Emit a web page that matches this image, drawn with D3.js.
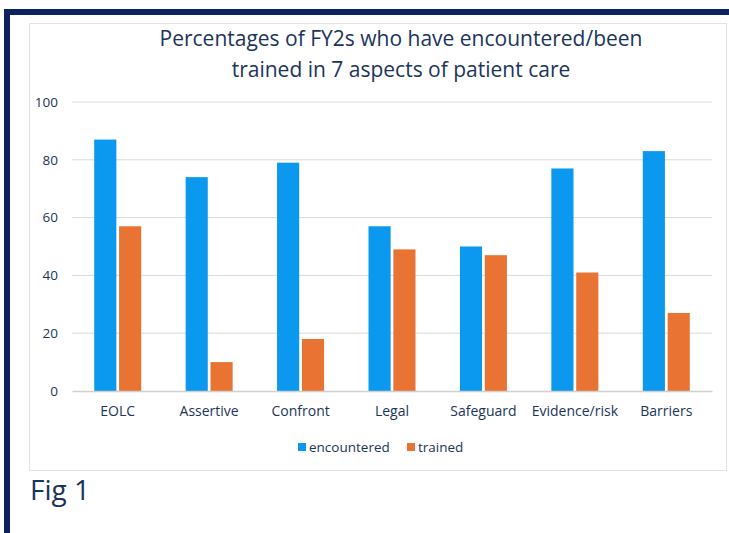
<!DOCTYPE html>
<html>
<head>
<meta charset="utf-8">
<script src="https://cdn.jsdelivr.net/npm/d3@7"></script>
<style>
  body { margin: 0; background: #fff; }
  svg text { font-family: "Open Sans", "Noto Sans", sans-serif; }
</style>
</head>
<body>
<div id="chart"></div>
<script>
var categories = ["EOLC", "Assertive", "Confront", "Legal", "Safeguard", "Evidence/risk", "Barriers"]
var encountered = [87, 74, 79, 57, 50, 77, 83]
var trained = [57, 10, 18, 49, 47, 41, 27]
var seriesNames = ["encountered", "trained"]
var yTicks = [0, 20, 40, 60, 80, 100]
var titleLines = ["Percentages of FY2s who have encountered/been", "trained in 7 aspects of patient care"]

var width = 729,
height = 533,
margin = {top: 102, bottom: 142, left: 72, right: 17},
colors = ["#0a99ee", "#e87332"],
textColor = "#1b355a"

var svg = d3.select("#chart")
	.append("svg")
	.attr("width", width)
	.attr("height", height)

// navy frame, runs off right and bottom
svg.append("rect")
	.attr("x", 7).attr("y", 12)
	.attr("width", width).attr("height", height)
	.attr("fill", "none")
	.attr("stroke", "#0b2160")
	.attr("stroke-width", 6)

// chart area box
svg.append("rect")
	.attr("x", 29.5).attr("y", 23.5)
	.attr("width", 697).attr("height", 447)
	.attr("fill", "#fff")
	.attr("stroke", "#e3e3e3")

var x = d3.scaleBand()
	.domain(categories)
	.range([margin.left, width - margin.right])

var xInner = d3.scaleBand()
	.domain(seriesNames)
	.range([0, 47])
	.paddingInner(0.11)

var y = d3.scaleLinear()
	.domain([0, 100])
	.range([height - margin.bottom, margin.top])

// gridlines
svg.append("g")
	.selectAll("line")
	.data(yTicks.filter(function(d) { return d > 0; }))
	.enter().append("line")
	.attr("x1", margin.left).attr("x2", width - margin.right)
	.attr("y1", function(d) { return y(d); })
	.attr("y2", function(d) { return y(d); })
	.attr("stroke", "#d9d9d9")
	.attr("stroke-width", 1)

// y labels
var yAxis = svg.append("g")
	.attr("transform", "translate(" + (margin.left - 14) + ",0)")
	.call(d3.axisLeft(y).tickValues(yTicks).tickSize(0).tickPadding(0))
yAxis.select(".domain").remove()
yAxis.selectAll("text")
	.attr("fill", textColor)
	.style("font-size", "13.5px")

var data = categories.map(function(c, i) { return {cat: c, values: [encountered[i], trained[i]]}; })

var groups = svg.append("g")
	.selectAll("g")
	.data(data)
	.enter().append("g")
	.attr("transform", function(d) { return "translate(" + (x(d.cat) + x.bandwidth() / 2 - 23.5) + ",0)"; })

groups.selectAll("rect")
	.data(function(d) { return d.values.map(function(v, j) { return {s: seriesNames[j], v: v, j: j}; }); })
	.enter().append("rect")
	.attr("x", function(d) { return xInner(d.s); })
	.attr("width", xInner.bandwidth())
	.attr("y", function(d) { return y(d.v); })
	.attr("height", function(d) { return y(0) - y(d.v); })
	.attr("fill", function(d) { return colors[d.j]; })

// baseline + category labels
var xAxis = svg.append("g")
	.attr("transform", "translate(0," + y(0) + ")")
	.call(d3.axisBottom(x).tickSize(0).tickPadding(15))
xAxis.select(".domain").attr("stroke", "#d0d0d0").attr("stroke-width", 1.5)
xAxis.selectAll("text")
	.attr("fill", textColor)
	.style("font-size", "14px")

// title
svg.append("g")
	.selectAll("text")
	.data(titleLines)
	.enter().append("text")
	.attr("x", 401)
	.attr("y", function(d, i) { return 46 + i * 31; })
	.attr("text-anchor", "middle")
	.attr("fill", textColor)
	.style("font-size", "21px")
	.text(function(d) { return d; })

// legend
var legend = svg.append("g")
var legendX = [298, 407]
seriesNames.forEach(function(name, i) {
	legend.append("rect")
		.attr("x", legendX[i]).attr("y", 443)
		.attr("width", 8).attr("height", 8)
		.attr("fill", colors[i])
	legend.append("text")
		.attr("x", legendX[i] + 11).attr("y", 452)
		.attr("fill", textColor)
		.style("font-size", "13.5px")
		.text(name)
})

svg.append("text")
	.attr("x", 30).attr("y", 500)
	.attr("fill", textColor)
	.style("font-size", "28px")
	.text("Fig 1")
</script>
</body>
</html>
